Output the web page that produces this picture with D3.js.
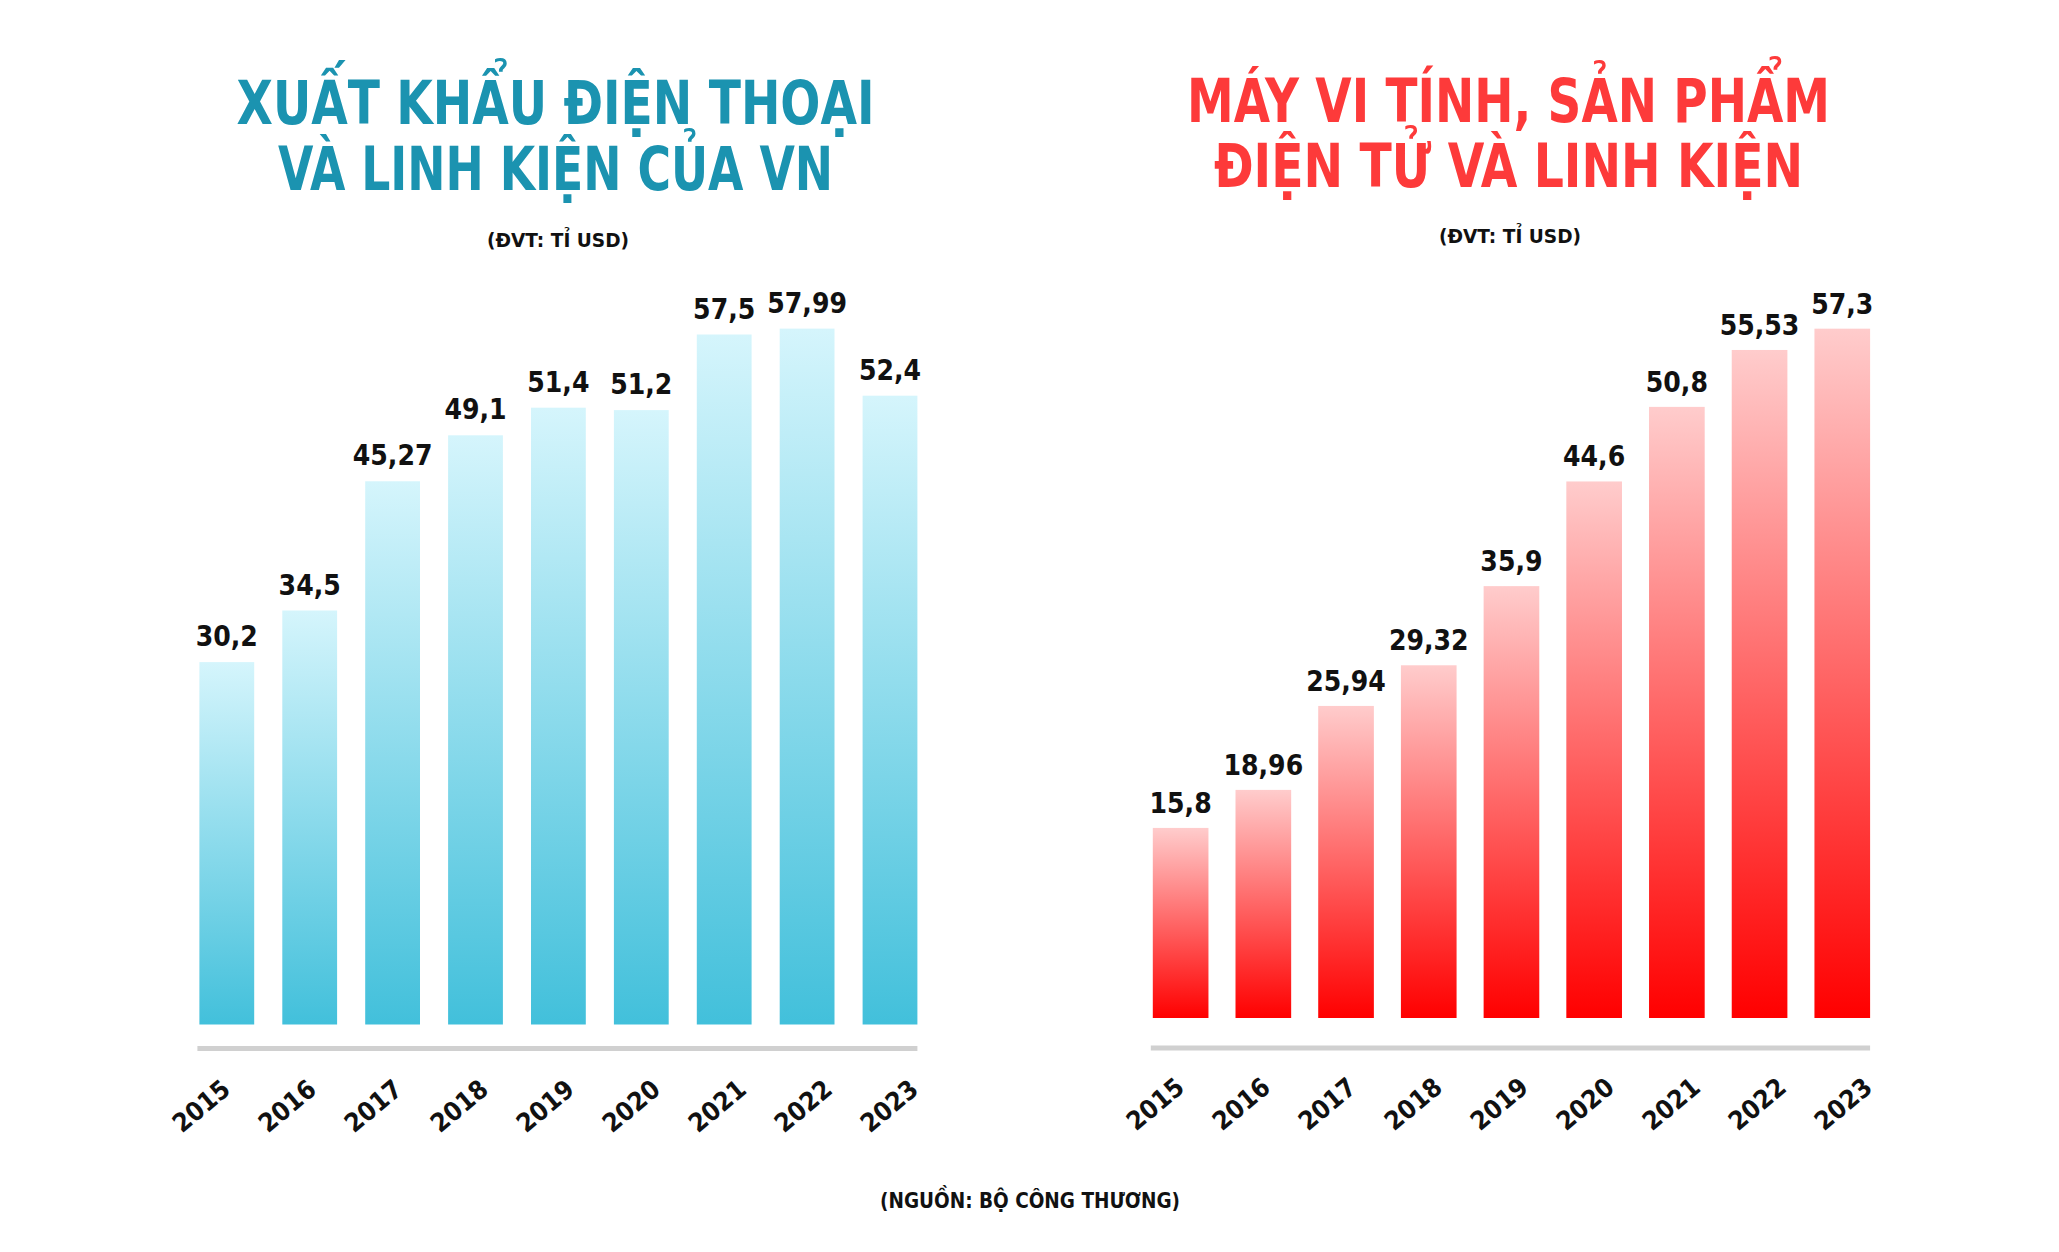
<!DOCTYPE html>
<html>
<head>
<meta charset="utf-8">
<script src="https://cdn.jsdelivr.net/npm/d3@7"></script>
<style>
  html, body { margin: 0; padding: 0; background: #ffffff; }
  svg { display: block; }
  text { font-family: "DejaVu Sans Condensed", "DejaVu Sans", sans-serif; font-weight: bold; }
</style>
</head>
<body>
<script>
// ---- DATA ----
const years = ["2015","2016","2017","2018","2019","2020","2021","2022","2023"];
const phoneValues = [30.2, 34.5, 45.27, 49.1, 51.4, 51.2, 57.5, 57.99, 52.4];
const phoneLabels = ["30,2","34,5","45,27","49,1","51,4","51,2","57,5","57,99","52,4"];
const computerValues = [15.8, 18.96, 25.94, 29.32, 35.9, 44.6, 50.8, 55.53, 57.3];
const computerLabels = ["15,8","18,96","25,94","29,32","35,9","44,6","50,8","55,53","57,3"];
const leftTitle = ["XUẤT KHẨU ĐIỆN THOẠI", "VÀ LINH KIỆN CỦA VN"];
const rightTitle = ["MÁY VI TÍNH, SẢN PHẨM", "ĐIỆN TỬ VÀ LINH KIỆN"];
const unitText = "(ĐVT: TỈ USD)";
const sourceText = "(NGUỒN: BỘ CÔNG THƯƠNG)";

const W = 2059, H = 1252;
const svg = d3.select("body").append("svg").attr("width", W).attr("height", H);
const defs = svg.append("defs");

function grad(id, top, bottom) {
  const g = defs.append("linearGradient").attr("id", id)
    .attr("x1", 0).attr("y1", 0).attr("x2", 0).attr("y2", 1);
  g.append("stop").attr("offset", "0%").attr("stop-color", top);
  g.append("stop").attr("offset", "100%").attr("stop-color", bottom);
}
grad("gBlue", "#d5f5fc", "#42c0db");
grad("gRed", "#ffcccc", "#ff0000");

function panel(cfg) {
  const tg = svg.append("g");
  cfg.title.forEach((t, i) => {
    tg.append("text")
      .attr("x", cfg.cx).attr("y", cfg.titleY[i])
      .attr("text-anchor", "middle")
      .attr("font-size", 60)
      .attr("fill", cfg.titleColor)
      .attr("textLength", cfg.titleLen[i])
      .attr("lengthAdjust", "spacingAndGlyphs")
      .text(t);
  });
  tg.append("text")
    .attr("x", cfg.unitX).attr("y", cfg.unitY)
    .attr("text-anchor", "middle")
    .attr("font-size", 20)
    .attr("fill", "#111")
    .attr("textLength", 142)
    .attr("lengthAdjust", "spacingAndGlyphs")
    .text(unitText);

  const x = d3.scaleBand().domain(years).range(cfg.xRange)
    .paddingInner(cfg.pad).paddingOuter(0);
  const y = d3.scaleLinear().domain(cfg.yDomain).range(cfg.yRange);
  const base = y(0);

  const g = svg.append("g");
  g.selectAll("rect.bar").data(cfg.values).join("rect")
    .attr("class", "bar")
    .attr("x", (d, i) => x(years[i]))
    .attr("width", x.bandwidth())
    .attr("y", d => y(d))
    .attr("height", d => base - y(d))
    .attr("fill", `url(#${cfg.grad})`);

  g.selectAll("text.val").data(cfg.values).join("text")
    .attr("class", "val")
    .attr("x", (d, i) => x(years[i]) + x.bandwidth() / 2)
    .attr("y", d => y(d) - cfg.labelGap)
    .attr("text-anchor", "middle")
    .attr("font-size", 28)
    .attr("fill", "#111")
    .text((d, i) => cfg.labels[i]);

  g.append("line")
    .attr("x1", cfg.xRange[0] - 2).attr("x2", cfg.xRange[1])
    .attr("y1", cfg.axisY).attr("y2", cfg.axisY)
    .attr("stroke", "#d0d0d0").attr("stroke-width", 5);

  const xl = d3.scalePoint().domain(years).range(cfg.labelRange);
  g.selectAll("text.yr").data(years).join("text")
    .attr("class", "yr")
    .attr("transform", d => `translate(${xl(d)},${cfg.yearY}) rotate(-40)`)
    .attr("text-anchor", "end")
    .attr("font-size", 26)
    .attr("fill", "#111")
    .text(d => d);
}

panel({
  title: leftTitle, titleY: [124, 190], titleLen: [638, 555], titleColor: "#1b93b0",
  cx: 555.5, unitX: 558, unitY: 247,
  values: phoneValues, labels: phoneLabels, grad: "gBlue",
  xRange: [199.4, 917.4], pad: 0.339,
  yDomain: [0, 58], yRange: [1024.5, 1024.5 - 12.0 * 58],
  labelGap: 16, axisY: 1048.5,
  labelRange: [232, 920], yearY: 1092
});

panel({
  title: rightTitle, titleY: [122, 187], titleLen: [643, 589], titleColor: "#fd3a3a",
  cx: 1508.5, unitX: 1510, unitY: 243,
  values: computerValues, labels: computerLabels, grad: "gRed",
  xRange: [1152.8, 1870.1], pad: 0.327,
  yDomain: [0, 57.3], yRange: [1018, 1018 - 12.03 * 57.3],
  labelGap: 15, axisY: 1048,
  labelRange: [1186, 1874], yearY: 1090
});

svg.append("text")
  .attr("x", 1030).attr("y", 1208)
  .attr("text-anchor", "middle")
  .attr("font-size", 22)
  .attr("fill", "#111")
  .attr("textLength", 300)
  .attr("lengthAdjust", "spacingAndGlyphs")
  .text(sourceText);
</script>
</body>
</html>
